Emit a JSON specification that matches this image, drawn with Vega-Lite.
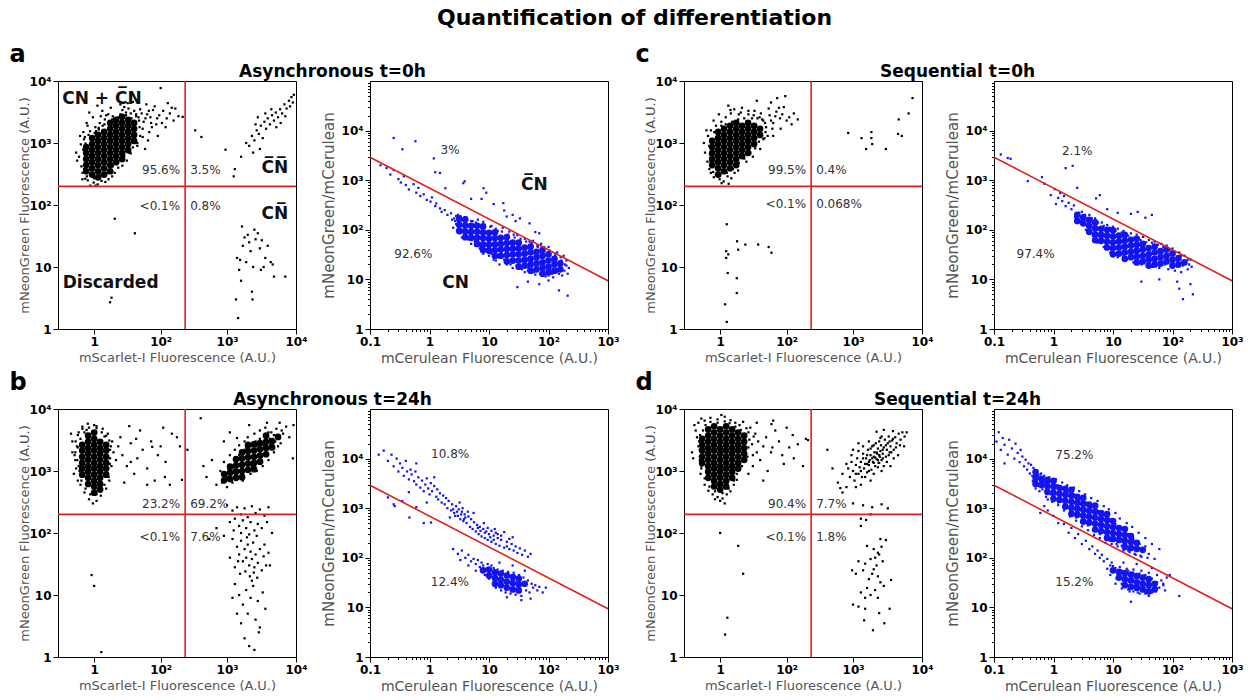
{
"$schema":"https://vega.github.io/schema/vega-lite/v6.json",
"title":{"text":"Quantification of differentiation","fontSize":22,"fontWeight":"bold","anchor":"middle","offset":13,"dx":8},
"padding":{"left":9,"top":6,"right":0,"bottom":0},
"spacing":4,
"vconcat":[
{"hconcat":[
{"title":{"text":"a","anchor":"start","frame":"bounds","fontSize":24,"fontWeight":"bold","offset":-4,"dx":-8},
 "vconcat":[{"title":{"text":"Asynchronous t=0h","fontSize":17,"fontWeight":"bold","anchor":"middle","offset":-6,"dx":14},
 "hconcat":[
 {"width":238,"height":248,
  "encoding":{"x":{"field":"x","type":"quantitative","scale":{"type":"symlog","constant":11.2,"domain":[-23,10000],"nice":false,"zero":false},"axis":{"values":[1,100,1000,10000],"labelExpr":"datum.value==1?'1':datum.value==100?'10²':datum.value==1000?'10³':'10⁴'","title":"mScarlet-I Fluorescence (A.U.)"}},
   "y":{"field":"y","type":"quantitative","scale":{"type":"log","domain":[1,10000],"nice":false},"axis":{"values":[1,10,100,1000,10000],"labelExpr":"datum.value==1?'1':datum.value==10?'10':datum.value==100?'10²':datum.value==1000?'10³':'10⁴'","title":"mNeonGreen Fluorescence (A.U.)","titlePadding":-2}}},
  "layer":[
   {"data":{"name":"a1c"},"mark":{"type":"circle","size":45,"color":"#000","opacity":1,"clip":true}},
   {"data":{"name":"a1"},"mark":{"type":"square","size":5,"color":"#000","opacity":1,"clip":true}},
   {"data":{"name":"gl"},"mark":{"type":"line","color":"#e0201c","strokeWidth":1.6},"encoding":{"detail":{"field":"g"}}},
   {"data":{"name":"a1p"},"transform":[{"filter":"datum.s=='L'"}],"mark":{"type":"text","align":"right","dx":-5,"fontSize":12,"color":"#333"},"encoding":{"text":{"field":"t"}}},
   {"data":{"name":"a1p"},"transform":[{"filter":"datum.s=='R'"}],"mark":{"type":"text","align":"left","dx":5,"fontSize":12,"color":"#333"},"encoding":{"text":{"field":"t"}}},
   {"data":{"name":"a1t"},"mark":{"type":"text","fontSize":17,"fontWeight":"bold","color":"#111"},"encoding":{"text":{"field":"t"}}}
  ]},
 {"width":238,"height":248,
  "encoding":{"x":{"field":"x","type":"quantitative","scale":{"type":"log","domain":[0.1,1000],"nice":false},"axis":{"values":[0.1,0.2,0.3,0.4,0.5,0.6,0.7,0.8,0.9,1,2,3,4,5,6,7,8,9,10,20,30,40,50,60,70,80,90,100,200,300,400,500,600,700,800,900,1000],"labelExpr":"datum.value==0.1?'0.1':datum.value==1?'1':datum.value==10?'10':datum.value==100?'10²':datum.value==1000?'10³':''","tickSize":{"condition":{"test":"indexof([0.1,1,10,100,1000],datum.value)>=0","value":5},"value":2.5},"title":"mCerulean Fluorescence (A.U.)","titleFontSize":14}},
   "y":{"field":"y","type":"quantitative","scale":{"type":"log","domain":[1,100000],"nice":false},"axis":{"values":[1,2,3,4,5,6,7,8,9,10,20,30,40,50,60,70,80,90,100,200,300,400,500,600,700,800,900,1000,2000,3000,4000,5000,6000,7000,8000,9000,10000,20000,30000,40000,50000,60000,70000,80000,90000],"labelExpr":"datum.value==1?'1':datum.value==10?'10':datum.value==100?'10²':datum.value==1000?'10³':datum.value==10000?'10⁴':''","tickSize":{"condition":{"test":"indexof([1,10,100,1000,10000],datum.value)>=0","value":5},"value":2.5},"title":"mNeonGreen/mCerulean","titleFontSize":15,"titlePadding":5}}},
  "layer":[
   {"data":{"name":"a2c"},"mark":{"type":"circle","size":45,"color":"#1414f0","opacity":1,"clip":true}},
   {"data":{"name":"a2"},"mark":{"type":"square","size":5,"color":"#1414f0","opacity":1,"clip":true}},
   {"data":{"name":"dl"},"mark":{"type":"line","color":"#e0201c","strokeWidth":1.6}},
   {"data":{"name":"a2p"},"mark":{"type":"text","fontSize":12,"color":"#333"},"encoding":{"text":{"field":"t"}}},
   {"data":{"name":"a2t"},"mark":{"type":"text","fontSize":17,"fontWeight":"bold","color":"#111"},"encoding":{"text":{"field":"t"}}}
  ]}
 ],"spacing":12}]},
{"title":{"text":"c","anchor":"start","frame":"bounds","fontSize":24,"fontWeight":"bold","offset":-4,"dx":-8},
 "vconcat":[{"title":{"text":"Sequential t=0h","fontSize":17,"fontWeight":"bold","anchor":"middle","offset":-6,"dx":14},
 "hconcat":[
 {"width":238,"height":248,
  "encoding":{"x":{"field":"x","type":"quantitative","scale":{"type":"symlog","constant":11.2,"domain":[-23,10000],"nice":false,"zero":false},"axis":{"values":[1,100,1000,10000],"labelExpr":"datum.value==1?'1':datum.value==100?'10²':datum.value==1000?'10³':'10⁴'","title":"mScarlet-I Fluorescence (A.U.)"}},
   "y":{"field":"y","type":"quantitative","scale":{"type":"log","domain":[1,10000],"nice":false},"axis":{"values":[1,10,100,1000,10000],"labelExpr":"datum.value==1?'1':datum.value==10?'10':datum.value==100?'10²':datum.value==1000?'10³':'10⁴'","title":"mNeonGreen Fluorescence (A.U.)","titlePadding":-2}}},
  "layer":[
   {"data":{"name":"c1c"},"mark":{"type":"circle","size":45,"color":"#000","opacity":1,"clip":true}},
   {"data":{"name":"c1"},"mark":{"type":"square","size":5,"color":"#000","opacity":1,"clip":true}},
   {"data":{"name":"gl"},"mark":{"type":"line","color":"#e0201c","strokeWidth":1.6},"encoding":{"detail":{"field":"g"}}},
   {"data":{"name":"c1p"},"transform":[{"filter":"datum.s=='L'"}],"mark":{"type":"text","align":"right","dx":-5,"fontSize":12,"color":"#333"},"encoding":{"text":{"field":"t"}}},
   {"data":{"name":"c1p"},"transform":[{"filter":"datum.s=='R'"}],"mark":{"type":"text","align":"left","dx":5,"fontSize":12,"color":"#333"},"encoding":{"text":{"field":"t"}}}
  ]},
 {"width":238,"height":248,
  "encoding":{"x":{"field":"x","type":"quantitative","scale":{"type":"log","domain":[0.1,1000],"nice":false},"axis":{"values":[0.1,0.2,0.3,0.4,0.5,0.6,0.7,0.8,0.9,1,2,3,4,5,6,7,8,9,10,20,30,40,50,60,70,80,90,100,200,300,400,500,600,700,800,900,1000],"labelExpr":"datum.value==0.1?'0.1':datum.value==1?'1':datum.value==10?'10':datum.value==100?'10²':datum.value==1000?'10³':''","tickSize":{"condition":{"test":"indexof([0.1,1,10,100,1000],datum.value)>=0","value":5},"value":2.5},"title":"mCerulean Fluorescence (A.U.)","titleFontSize":14}},
   "y":{"field":"y","type":"quantitative","scale":{"type":"log","domain":[1,100000],"nice":false},"axis":{"values":[1,2,3,4,5,6,7,8,9,10,20,30,40,50,60,70,80,90,100,200,300,400,500,600,700,800,900,1000,2000,3000,4000,5000,6000,7000,8000,9000,10000,20000,30000,40000,50000,60000,70000,80000,90000],"labelExpr":"datum.value==1?'1':datum.value==10?'10':datum.value==100?'10²':datum.value==1000?'10³':datum.value==10000?'10⁴':''","tickSize":{"condition":{"test":"indexof([1,10,100,1000,10000],datum.value)>=0","value":5},"value":2.5},"title":"mNeonGreen/mCerulean","titleFontSize":15,"titlePadding":5}}},
  "layer":[
   {"data":{"name":"c2c"},"mark":{"type":"circle","size":45,"color":"#1414f0","opacity":1,"clip":true}},
   {"data":{"name":"c2"},"mark":{"type":"square","size":5,"color":"#1414f0","opacity":1,"clip":true}},
   {"data":{"name":"dl"},"mark":{"type":"line","color":"#e0201c","strokeWidth":1.6}},
   {"data":{"name":"c2p"},"mark":{"type":"text","fontSize":12,"color":"#333"},"encoding":{"text":{"field":"t"}}}
  ]}
 ],"spacing":10}]}
],"spacing":15},
{"hconcat":[
{"title":{"text":"b","anchor":"start","frame":"bounds","fontSize":24,"fontWeight":"bold","offset":-4,"dx":-8},
 "vconcat":[{"title":{"text":"Asynchronous t=24h","fontSize":17,"fontWeight":"bold","anchor":"middle","offset":-6,"dx":14},
 "hconcat":[
 {"width":238,"height":248,
  "encoding":{"x":{"field":"x","type":"quantitative","scale":{"type":"symlog","constant":11.2,"domain":[-23,10000],"nice":false,"zero":false},"axis":{"values":[1,100,1000,10000],"labelExpr":"datum.value==1?'1':datum.value==100?'10²':datum.value==1000?'10³':'10⁴'","title":"mScarlet-I Fluorescence (A.U.)"}},
   "y":{"field":"y","type":"quantitative","scale":{"type":"log","domain":[1,10000],"nice":false},"axis":{"values":[1,10,100,1000,10000],"labelExpr":"datum.value==1?'1':datum.value==10?'10':datum.value==100?'10²':datum.value==1000?'10³':'10⁴'","title":"mNeonGreen Fluorescence (A.U.)","titlePadding":-2}}},
  "layer":[
   {"data":{"name":"b1c"},"mark":{"type":"circle","size":45,"color":"#000","opacity":1,"clip":true}},
   {"data":{"name":"b1"},"mark":{"type":"square","size":5,"color":"#000","opacity":1,"clip":true}},
   {"data":{"name":"gl"},"mark":{"type":"line","color":"#e0201c","strokeWidth":1.6},"encoding":{"detail":{"field":"g"}}},
   {"data":{"name":"b1p"},"transform":[{"filter":"datum.s=='L'"}],"mark":{"type":"text","align":"right","dx":-5,"fontSize":12,"color":"#333"},"encoding":{"text":{"field":"t"}}},
   {"data":{"name":"b1p"},"transform":[{"filter":"datum.s=='R'"}],"mark":{"type":"text","align":"left","dx":5,"fontSize":12,"color":"#333"},"encoding":{"text":{"field":"t"}}}
  ]},
 {"width":238,"height":248,
  "encoding":{"x":{"field":"x","type":"quantitative","scale":{"type":"log","domain":[0.1,1000],"nice":false},"axis":{"values":[0.1,0.2,0.3,0.4,0.5,0.6,0.7,0.8,0.9,1,2,3,4,5,6,7,8,9,10,20,30,40,50,60,70,80,90,100,200,300,400,500,600,700,800,900,1000],"labelExpr":"datum.value==0.1?'0.1':datum.value==1?'1':datum.value==10?'10':datum.value==100?'10²':datum.value==1000?'10³':''","tickSize":{"condition":{"test":"indexof([0.1,1,10,100,1000],datum.value)>=0","value":5},"value":2.5},"title":"mCerulean Fluorescence (A.U.)","titleFontSize":14}},
   "y":{"field":"y","type":"quantitative","scale":{"type":"log","domain":[1,100000],"nice":false},"axis":{"values":[1,2,3,4,5,6,7,8,9,10,20,30,40,50,60,70,80,90,100,200,300,400,500,600,700,800,900,1000,2000,3000,4000,5000,6000,7000,8000,9000,10000,20000,30000,40000,50000,60000,70000,80000,90000],"labelExpr":"datum.value==1?'1':datum.value==10?'10':datum.value==100?'10²':datum.value==1000?'10³':datum.value==10000?'10⁴':''","tickSize":{"condition":{"test":"indexof([1,10,100,1000,10000],datum.value)>=0","value":5},"value":2.5},"title":"mNeonGreen/mCerulean","titleFontSize":15,"titlePadding":5}}},
  "layer":[
   {"data":{"name":"b2c"},"mark":{"type":"circle","size":45,"color":"#1414f0","opacity":1,"clip":true}},
   {"data":{"name":"b2"},"mark":{"type":"square","size":5,"color":"#1414f0","opacity":1,"clip":true}},
   {"data":{"name":"dl"},"mark":{"type":"line","color":"#e0201c","strokeWidth":1.6}},
   {"data":{"name":"b2p"},"mark":{"type":"text","fontSize":12,"color":"#333"},"encoding":{"text":{"field":"t"}}}
  ]}
 ],"spacing":12}]},
{"title":{"text":"d","anchor":"start","frame":"bounds","fontSize":24,"fontWeight":"bold","offset":-4,"dx":-8},
 "vconcat":[{"title":{"text":"Sequential t=24h","fontSize":17,"fontWeight":"bold","anchor":"middle","offset":-6,"dx":14},
 "hconcat":[
 {"width":238,"height":248,
  "encoding":{"x":{"field":"x","type":"quantitative","scale":{"type":"symlog","constant":11.2,"domain":[-23,10000],"nice":false,"zero":false},"axis":{"values":[1,100,1000,10000],"labelExpr":"datum.value==1?'1':datum.value==100?'10²':datum.value==1000?'10³':'10⁴'","title":"mScarlet-I Fluorescence (A.U.)"}},
   "y":{"field":"y","type":"quantitative","scale":{"type":"log","domain":[1,10000],"nice":false},"axis":{"values":[1,10,100,1000,10000],"labelExpr":"datum.value==1?'1':datum.value==10?'10':datum.value==100?'10²':datum.value==1000?'10³':'10⁴'","title":"mNeonGreen Fluorescence (A.U.)","titlePadding":-2}}},
  "layer":[
   {"data":{"name":"d1c"},"mark":{"type":"circle","size":45,"color":"#000","opacity":1,"clip":true}},
   {"data":{"name":"d1"},"mark":{"type":"square","size":5,"color":"#000","opacity":1,"clip":true}},
   {"data":{"name":"gl"},"mark":{"type":"line","color":"#e0201c","strokeWidth":1.6},"encoding":{"detail":{"field":"g"}}},
   {"data":{"name":"d1p"},"transform":[{"filter":"datum.s=='L'"}],"mark":{"type":"text","align":"right","dx":-5,"fontSize":12,"color":"#333"},"encoding":{"text":{"field":"t"}}},
   {"data":{"name":"d1p"},"transform":[{"filter":"datum.s=='R'"}],"mark":{"type":"text","align":"left","dx":5,"fontSize":12,"color":"#333"},"encoding":{"text":{"field":"t"}}}
  ]},
 {"width":238,"height":248,
  "encoding":{"x":{"field":"x","type":"quantitative","scale":{"type":"log","domain":[0.1,1000],"nice":false},"axis":{"values":[0.1,0.2,0.3,0.4,0.5,0.6,0.7,0.8,0.9,1,2,3,4,5,6,7,8,9,10,20,30,40,50,60,70,80,90,100,200,300,400,500,600,700,800,900,1000],"labelExpr":"datum.value==0.1?'0.1':datum.value==1?'1':datum.value==10?'10':datum.value==100?'10²':datum.value==1000?'10³':''","tickSize":{"condition":{"test":"indexof([0.1,1,10,100,1000],datum.value)>=0","value":5},"value":2.5},"title":"mCerulean Fluorescence (A.U.)","titleFontSize":14}},
   "y":{"field":"y","type":"quantitative","scale":{"type":"log","domain":[1,100000],"nice":false},"axis":{"values":[1,2,3,4,5,6,7,8,9,10,20,30,40,50,60,70,80,90,100,200,300,400,500,600,700,800,900,1000,2000,3000,4000,5000,6000,7000,8000,9000,10000,20000,30000,40000,50000,60000,70000,80000,90000],"labelExpr":"datum.value==1?'1':datum.value==10?'10':datum.value==100?'10²':datum.value==1000?'10³':datum.value==10000?'10⁴':''","tickSize":{"condition":{"test":"indexof([1,10,100,1000,10000],datum.value)>=0","value":5},"value":2.5},"title":"mNeonGreen/mCerulean","titleFontSize":15,"titlePadding":5}}},
  "layer":[
   {"data":{"name":"d2c"},"mark":{"type":"circle","size":45,"color":"#1414f0","opacity":1,"clip":true}},
   {"data":{"name":"d2"},"mark":{"type":"square","size":5,"color":"#1414f0","opacity":1,"clip":true}},
   {"data":{"name":"dl"},"mark":{"type":"line","color":"#e0201c","strokeWidth":1.6}},
   {"data":{"name":"d2p"},"mark":{"type":"text","fontSize":12,"color":"#333"},"encoding":{"text":{"field":"t"}}}
  ]}
 ],"spacing":10}]}
],"spacing":15}
],
"datasets":{
"gl":[{"g":1,"x":240,"y":1},{"g":1,"x":240,"y":10000},{"g":2,"x":-23,"y":200},{"g":2,"x":10000,"y":200}],
"dl":[{"x":0.1,"y":2900},{"x":1000,"y":9.4}],
"a1p":[{"x":240,"y":367,"t":"95.6%","s":"L"},{"x":240,"y":367,"t":"3.5%","s":"R"},{"x":240,"y":96,"t":"<0.1%","s":"L"},{"x":240,"y":96,"t":"0.8%","s":"R"}],
"a1t":[{"x":4.6,"y":5220,"t":"CN + C\u0305N"},{"x":9.9,"y":5.6,"t":"Discarded"},{"x":4950,"y":390,"t":"C\u0305N\u0305"},{"x":4950,"y":72,"t":"CN\u0305"}],
"a2p":[{"x":2.22,"y":4000,"t":"3%"},{"x":0.535,"y":33,"t":"92.6%"}],
"a2t":[{"x":57.8,"y":785,"t":"C\u0305N"},{"x":2.76,"y":8.5,"t":"CN"}],
"b1p":[{"x":240,"y":294,"t":"23.2%","s":"L"},{"x":240,"y":294,"t":"69.2%","s":"R"},{"x":240,"y":85,"t":"<0.1%","s":"L"},{"x":240,"y":85,"t":"7.6%","s":"R"}],
"b2p":[{"x":2.22,"y":12400,"t":"10.8%"},{"x":2.2,"y":32,"t":"12.4%"}],
"c1p":[{"x":240,"y":366,"t":"99.5%","s":"L"},{"x":240,"y":366,"t":"0.4%","s":"R"},{"x":240,"y":102,"t":"<0.1%","s":"L"},{"x":240,"y":102,"t":"0.068%","s":"R"}],
"c2p":[{"x":2.5,"y":3900,"t":"2.1%"},{"x":0.5,"y":33,"t":"97.4%"}],
"d1p":[{"x":240,"y":299,"t":"90.4%","s":"L"},{"x":240,"y":299,"t":"7.7%","s":"R"},{"x":240,"y":85,"t":"<0.1%","s":"L"},{"x":240,"y":85,"t":"1.8%","s":"R"}],
"d2p":[{"x":2.24,"y":11800,"t":"75.2%"},{"x":2.24,"y":32,"t":"15.2%"}],
"a1c":[{"x":-2.2,"y":350},{"x":-2.2,"y":440},{"x":-2.2,"y":550},{"x":-2.2,"y":690},{"x":-2.2,"y":860},{"x":0.2,"y":310},{"x":0.2,"y":390},{"x":0.2,"y":490},{"x":0.2,"y":615},{"x":0.2,"y":770},{"x":0.2,"y":960},{"x":0.2,"y":1200},{"x":2.7,"y":280},{"x":2.7,"y":350},{"x":2.7,"y":440},{"x":2.7,"y":550},{"x":2.7,"y":690},{"x":2.7,"y":860},{"x":2.7,"y":1080},{"x":2.7,"y":1350},{"x":5.8,"y":310},{"x":5.8,"y":390},{"x":5.8,"y":490},{"x":5.8,"y":615},{"x":5.8,"y":770},{"x":5.8,"y":960},{"x":5.8,"y":1200},{"x":5.8,"y":1510},{"x":9.6,"y":350},{"x":9.6,"y":440},{"x":9.6,"y":550},{"x":9.6,"y":690},{"x":9.6,"y":860},{"x":9.6,"y":1080},{"x":9.6,"y":1350},{"x":9.6,"y":1690},{"x":9.6,"y":2110},{"x":14.1,"y":490},{"x":14.1,"y":615},{"x":14.1,"y":770},{"x":14.1,"y":960},{"x":14.1,"y":1200},{"x":14.1,"y":1510},{"x":14.1,"y":1890},{"x":14.1,"y":2360},{"x":19.7,"y":550},{"x":19.7,"y":690},{"x":19.7,"y":860},{"x":19.7,"y":1080},{"x":19.7,"y":1350},{"x":19.7,"y":1690},{"x":19.7,"y":2110},{"x":19.7,"y":2640},{"x":26.6,"y":770},{"x":26.6,"y":960},{"x":26.6,"y":1200},{"x":26.6,"y":1510},{"x":26.6,"y":1890},{"x":26.6,"y":2360},{"x":34.8,"y":1080},{"x":34.8,"y":1350},{"x":34.8,"y":1690},{"x":34.8,"y":2110}],
"a1":[{"x":-4.5,"y":420},{"x":-5.8,"y":600},{"x":-3.6,"y":780},{"x":-6.9,"y":520},{"x":-3.9,"y":330},{"x":-4.8,"y":950},{"x":-7.5,"y":700},{"x":-3.2,"y":1150},{"x":-5.2,"y":1300},{"x":-4,"y":260},{"x":-1.5,"y":250},{"x":0.8,"y":230},{"x":2.5,"y":215},{"x":4.4,"y":245},{"x":6.5,"y":235},{"x":8.5,"y":260},{"x":-2.6,"y":265},{"x":1.6,"y":205},{"x":11,"y":290},{"x":13,"y":330},{"x":16,"y":400},{"x":-0.5,"y":205},{"x":-2.8,"y":1250},{"x":-0.6,"y":1550},{"x":1.5,"y":1800},{"x":3.5,"y":2100},{"x":6.2,"y":2400},{"x":8.3,"y":2900},{"x":0.5,"y":2600},{"x":-1.6,"y":1900},{"x":4.8,"y":3300},{"x":11.5,"y":2700},{"x":2.4,"y":4000},{"x":-0.9,"y":3100},{"x":-3.5,"y":1500},{"x":1.2,"y":1450},{"x":3,"y":1650},{"x":5,"y":1900},{"x":7,"y":2800},{"x":18,"y":2900},{"x":24,"y":3100},{"x":31,"y":2500},{"x":38,"y":2900},{"x":44,"y":1800},{"x":52,"y":2200},{"x":60,"y":2900},{"x":68,"y":2600},{"x":75,"y":3400},{"x":85,"y":2000},{"x":95,"y":2800},{"x":110,"y":3300},{"x":125,"y":2500},{"x":140,"y":3000},{"x":160,"y":2300},{"x":100,"y":7700},{"x":58,"y":4200},{"x":80,"y":3900},{"x":45,"y":3500},{"x":130,"y":4400},{"x":33,"y":4600},{"x":22,"y":3800},{"x":65,"y":1500},{"x":50,"y":1250},{"x":40,"y":900},{"x":30,"y":680},{"x":25,"y":520},{"x":20,"y":430},{"x":55,"y":800},{"x":90,"y":1300},{"x":120,"y":1800},{"x":170,"y":3600},{"x":220,"y":2640},{"x":42,"y":2600},{"x":70,"y":2100},{"x":36,"y":1400},{"x":28,"y":1900},{"x":-3.2,"y":380},{"x":-2.9,"y":560},{"x":-3.1,"y":700},{"x":-2.5,"y":980},{"x":-1.2,"y":1350},{"x":1.8,"y":1550},{"x":-1.9,"y":290},{"x":0.9,"y":270},{"x":4,"y":300},{"x":7.5,"y":330},{"x":11.5,"y":420},{"x":16,"y":520},{"x":22,"y":620},{"x":28,"y":700},{"x":33,"y":850},{"x":40,"y":1000},{"x":45,"y":1300},{"x":43,"y":2300},{"x":38,"y":2700},{"x":30,"y":3000},{"x":24,"y":2800},{"x":16,"y":2600},{"x":11,"y":2400},{"x":6,"y":2000},{"x":3,"y":1750},{"x":12,"y":2200},{"x":20,"y":3400},{"x":27,"y":3600},{"x":35,"y":3300},{"x":50,"y":1700},{"x":56,"y":2500},{"x":64,"y":3300},{"x":72,"y":1800},{"x":88,"y":2500},{"x":105,"y":2100},{"x":62,"y":1100},{"x":48,"y":3000},{"x":18,"y":4200},{"x":10,"y":3700},{"x":4,"y":2700},{"x":-2,"y":2100},{"x":26,"y":4400},{"x":40,"y":4900},{"x":150,"y":3700},{"x":190,"y":2700},{"x":2100,"y":900},{"x":2300,"y":1300},{"x":2500,"y":1100},{"x":2700,"y":1600},{"x":2900,"y":1400},{"x":3100,"y":1900},{"x":3300,"y":1200},{"x":3500,"y":2200},{"x":3700,"y":1700},{"x":3900,"y":2500},{"x":4200,"y":2000},{"x":4500,"y":2800},{"x":4800,"y":2300},{"x":5100,"y":3100},{"x":5500,"y":2600},{"x":5900,"y":3500},{"x":6300,"y":3000},{"x":6800,"y":4200},{"x":7300,"y":3600},{"x":7900,"y":4800},{"x":8600,"y":5500},{"x":9300,"y":6000},{"x":2400,"y":700},{"x":1900,"y":1000},{"x":3600,"y":3000},{"x":4400,"y":3500},{"x":5200,"y":1800},{"x":6000,"y":2100},{"x":3000,"y":800},{"x":8200,"y":3900},{"x":7000,"y":2700},{"x":9000,"y":4500},{"x":2600,"y":2000},{"x":1600,"y":600},{"x":1300,"y":380},{"x":1250,"y":290},{"x":950,"y":780},{"x":420,"y":1250},{"x":340,"y":1600},{"x":2800,"y":2600},{"x":1400,"y":14},{"x":1500,"y":9},{"x":1600,"y":6},{"x":1700,"y":22},{"x":1800,"y":30},{"x":1900,"y":12},{"x":2000,"y":33},{"x":2100,"y":25},{"x":2200,"y":18},{"x":2300,"y":4},{"x":2400,"y":10},{"x":2600,"y":28},{"x":2800,"y":35},{"x":3000,"y":20},{"x":3200,"y":27},{"x":3400,"y":10},{"x":3600,"y":14},{"x":3900,"y":22},{"x":4300,"y":12},{"x":4800,"y":7},{"x":1450,"y":1.5},{"x":1350,"y":3},{"x":2500,"y":40},{"x":3100,"y":9},{"x":7000,"y":7},{"x":2350,"y":3},{"x":1650,"y":45},{"x":4600,"y":11},{"x":1550,"y":13},{"x":13,"y":60},{"x":36,"y":35},{"x":9.5,"y":2.7},{"x":10.5,"y":3.2}],
"a2c":[{"x":3.16,"y":126},{"x":3.16,"y":95},{"x":3.16,"y":166},{"x":3.98,"y":123},{"x":3.98,"y":93},{"x":3.98,"y":162},{"x":3.98,"y":71},{"x":5.01,"y":91},{"x":5.01,"y":69},{"x":5.01,"y":120},{"x":6.31,"y":91},{"x":6.31,"y":69},{"x":6.31,"y":120},{"x":6.31,"y":52},{"x":7.94,"y":68},{"x":7.94,"y":51},{"x":7.94,"y":89},{"x":7.94,"y":39},{"x":7.94,"y":117},{"x":10,"y":66},{"x":10,"y":50},{"x":10,"y":87},{"x":10,"y":38},{"x":12.6,"y":51},{"x":12.6,"y":39},{"x":12.6,"y":68},{"x":12.6,"y":30},{"x":12.6,"y":89},{"x":15.8,"y":52},{"x":15.8,"y":40},{"x":15.8,"y":69},{"x":15.8,"y":30},{"x":20,"y":41},{"x":20,"y":31},{"x":20,"y":54},{"x":20,"y":23},{"x":20,"y":71},{"x":25.1,"y":42},{"x":25.1,"y":32},{"x":25.1,"y":55},{"x":25.1,"y":24},{"x":31.6,"y":32},{"x":31.6,"y":24},{"x":31.6,"y":42},{"x":31.6,"y":18},{"x":31.6,"y":55},{"x":39.8,"y":33},{"x":39.8,"y":25},{"x":39.8,"y":44},{"x":39.8,"y":19},{"x":50.1,"y":26},{"x":50.1,"y":20},{"x":50.1,"y":35},{"x":50.1,"y":15},{"x":50.1,"y":46},{"x":63.1,"y":28},{"x":63.1,"y":21},{"x":63.1,"y":36},{"x":63.1,"y":16},{"x":79.4,"y":22},{"x":79.4,"y":17},{"x":79.4,"y":30},{"x":79.4,"y":13},{"x":79.4,"y":39},{"x":100,"y":24},{"x":100,"y":18},{"x":100,"y":32},{"x":100,"y":14},{"x":126,"y":20},{"x":126,"y":15},{"x":126,"y":26},{"x":158,"y":21},{"x":158,"y":16}],
"a2":[{"x":0.15,"y":2000},{"x":0.19,"y":1750},{"x":0.22,"y":1300},{"x":0.25,"y":1600},{"x":0.3,"y":1050},{"x":0.37,"y":1200},{"x":0.4,"y":800},{"x":0.45,"y":650},{"x":0.54,"y":830},{"x":0.6,"y":560},{"x":0.7,"y":480},{"x":0.8,"y":520},{"x":0.9,"y":400},{"x":1.04,"y":370},{"x":1.1,"y":450},{"x":1.25,"y":300},{"x":1.5,"y":270},{"x":1.6,"y":230},{"x":1.8,"y":250},{"x":2,"y":200},{"x":2.3,"y":215},{"x":2.6,"y":170},{"x":2.8,"y":190},{"x":0.33,"y":900},{"x":0.65,"y":700},{"x":1.3,"y":340},{"x":3,"y":200},{"x":4,"y":180},{"x":5,"y":150},{"x":6,"y":140},{"x":8,"y":145},{"x":3.5,"y":70},{"x":5,"y":52},{"x":7,"y":42},{"x":10,"y":30},{"x":13,"y":24},{"x":17,"y":110},{"x":22,"y":92},{"x":30,"y":78},{"x":40,"y":66},{"x":55,"y":60},{"x":75,"y":52},{"x":100,"y":45},{"x":140,"y":35},{"x":180,"y":30},{"x":200,"y":24},{"x":220,"y":17},{"x":170,"y":12},{"x":120,"y":11},{"x":90,"y":11.5},{"x":60,"y":12.5},{"x":40,"y":14},{"x":25,"y":17},{"x":15,"y":20},{"x":2.5,"y":110},{"x":2.7,"y":150},{"x":11,"y":120},{"x":14,"y":95},{"x":26,"y":80},{"x":48,"y":58},{"x":65,"y":48},{"x":85,"y":44},{"x":130,"y":33},{"x":160,"y":28},{"x":190,"y":20},{"x":210,"y":13},{"x":150,"y":13},{"x":100,"y":12},{"x":45,"y":15},{"x":33,"y":18},{"x":20,"y":20},{"x":12,"y":25},{"x":8,"y":33},{"x":6,"y":48},{"x":4.5,"y":64},{"x":3.3,"y":85},{"x":3.3,"y":190},{"x":4.2,"y":175},{"x":5.3,"y":150},{"x":6.5,"y":160},{"x":8.5,"y":125},{"x":10.5,"y":115},{"x":13,"y":105},{"x":16.5,"y":92},{"x":21,"y":80},{"x":27,"y":70},{"x":34,"y":66},{"x":42,"y":58},{"x":52,"y":54},{"x":66,"y":45},{"x":82,"y":45},{"x":105,"y":38},{"x":130,"y":30},{"x":165,"y":24},{"x":3.6,"y":100},{"x":4.6,"y":85},{"x":5.8,"y":60},{"x":7.2,"y":45},{"x":9,"y":40},{"x":11,"y":33},{"x":14,"y":28},{"x":18,"y":25},{"x":23,"y":20},{"x":29,"y":19},{"x":36,"y":16},{"x":46,"y":17},{"x":57,"y":14},{"x":72,"y":13},{"x":92,"y":13},{"x":115,"y":13},{"x":140,"y":14},{"x":185,"y":15},{"x":200,"y":19},{"x":2.8,"y":130},{"x":2.4,"y":160},{"x":0.25,"y":7100},{"x":0.35,"y":4200},{"x":0.58,"y":6100},{"x":1.18,"y":2750},{"x":1.25,"y":1450},{"x":1.5,"y":1400},{"x":1.85,"y":690},{"x":3.7,"y":870},{"x":3.9,"y":950},{"x":8.1,"y":690},{"x":9,"y":560},{"x":17.4,"y":345},{"x":18,"y":245},{"x":19.8,"y":185},{"x":33,"y":170},{"x":48,"y":135},{"x":5,"y":420},{"x":7.5,"y":420},{"x":12,"y":330},{"x":25,"y":200},{"x":28,"y":150},{"x":60,"y":90},{"x":70,"y":85},{"x":30,"y":7},{"x":70,"y":8},{"x":150,"y":6},{"x":210,"y":4.7},{"x":45,"y":9},{"x":100,"y":9.5}],
"b1c":[{"x":-4.1,"y":871},{"x":-4.1,"y":1096},{"x":-4.1,"y":1349},{"x":-4.1,"y":1698},{"x":-4.1,"y":2138},{"x":-4.1,"y":2630},{"x":-1.36,"y":617},{"x":-1.36,"y":776},{"x":-1.36,"y":977},{"x":-1.36,"y":1202},{"x":-1.36,"y":1514},{"x":-1.36,"y":1905},{"x":-1.36,"y":2344},{"x":-1.36,"y":2951},{"x":-1.36,"y":3715},{"x":1,"y":447},{"x":1,"y":562},{"x":1,"y":692},{"x":1,"y":871},{"x":1,"y":1096},{"x":1,"y":1349},{"x":1,"y":1698},{"x":1,"y":2138},{"x":1,"y":2630},{"x":1,"y":3311},{"x":1,"y":4169},{"x":3.69,"y":501},{"x":3.69,"y":617},{"x":3.69,"y":776},{"x":3.69,"y":977},{"x":3.69,"y":1202},{"x":3.69,"y":1514},{"x":3.69,"y":1905},{"x":3.69,"y":2344},{"x":3.69,"y":2951},{"x":6.98,"y":871},{"x":6.98,"y":1096},{"x":6.98,"y":1349},{"x":6.98,"y":1698},{"x":6.98,"y":2138},{"x":6.98,"y":2630},{"x":905,"y":891},{"x":905,"y":708},{"x":1107,"y":933},{"x":1107,"y":1175},{"x":1107,"y":741},{"x":1354,"y":1230},{"x":1354,"y":977},{"x":1354,"y":1549},{"x":1354,"y":776},{"x":1655,"y":1259},{"x":1655,"y":1585},{"x":1655,"y":1000},{"x":1655,"y":1995},{"x":1655,"y":794},{"x":2023,"y":1660},{"x":2023,"y":1318},{"x":2023,"y":2089},{"x":2023,"y":1047},{"x":2023,"y":2630},{"x":2473,"y":1698},{"x":2473,"y":2138},{"x":2473,"y":1349},{"x":2473,"y":2692},{"x":2473,"y":1072},{"x":3020,"y":2239},{"x":3020,"y":1778},{"x":3020,"y":2818},{"x":3020,"y":1413},{"x":3690,"y":2344},{"x":3690,"y":2951},{"x":3690,"y":1862},{"x":3690,"y":3715},{"x":4506,"y":3020},{"x":4506,"y":2399},{"x":5500,"y":3548}],
"b1":[{"x":-8,"y":1500},{"x":-7,"y":2500},{"x":-9,"y":900},{"x":-6.5,"y":3800},{"x":-5,"y":600},{"x":-3,"y":450},{"x":-1,"y":350},{"x":0.5,"y":300},{"x":2,"y":330},{"x":4,"y":400},{"x":7,"y":520},{"x":9,"y":700},{"x":10.5,"y":1200},{"x":12,"y":2000},{"x":11,"y":3000},{"x":8,"y":4000},{"x":5,"y":4800},{"x":1,"y":5500},{"x":-2,"y":4600},{"x":-4,"y":5200},{"x":-10,"y":3000},{"x":-10,"y":2000},{"x":-11,"y":4000},{"x":3,"y":650},{"x":-1.5,"y":5800},{"x":-6,"y":1200},{"x":-8.5,"y":1800},{"x":9.5,"y":1600},{"x":10,"y":2500},{"x":6,"y":3600},{"x":-3,"y":4200},{"x":2,"y":4900},{"x":-6.5,"y":700},{"x":-7.5,"y":1100},{"x":-8,"y":2000},{"x":-7.8,"y":3000},{"x":-6,"y":4200},{"x":-4,"y":4800},{"x":-1,"y":5000},{"x":2,"y":5300},{"x":4.5,"y":4200},{"x":7,"y":3700},{"x":9,"y":3100},{"x":9.5,"y":2200},{"x":9.3,"y":1300},{"x":8.5,"y":800},{"x":6,"y":600},{"x":4,"y":480},{"x":2,"y":420},{"x":-0.5,"y":420},{"x":-2.5,"y":520},{"x":-4.5,"y":700},{"x":-5.5,"y":1000},{"x":-6.8,"y":1500},{"x":-6.5,"y":2400},{"x":-5,"y":3300},{"x":14,"y":1500},{"x":16,"y":2500},{"x":20,"y":1800},{"x":25,"y":1200},{"x":30,"y":2800},{"x":35,"y":900},{"x":40,"y":1600},{"x":50,"y":2200},{"x":60,"y":1100},{"x":70,"y":3000},{"x":80,"y":700},{"x":90,"y":1800},{"x":100,"y":2500},{"x":120,"y":1400},{"x":140,"y":600},{"x":180,"y":3500},{"x":200,"y":2500},{"x":150,"y":4000},{"x":110,"y":5000},{"x":45,"y":4500},{"x":28,"y":5300},{"x":60,"y":600},{"x":22,"y":650},{"x":30,"y":1400},{"x":73,"y":2450},{"x":117,"y":800},{"x":215,"y":720},{"x":410,"y":7100},{"x":260,"y":2200},{"x":18,"y":3500},{"x":38,"y":3300},{"x":700,"y":600},{"x":800,"y":1000},{"x":900,"y":1400},{"x":1000,"y":550},{"x":1100,"y":1800},{"x":1200,"y":650},{"x":1300,"y":2200},{"x":1500,"y":2600},{"x":1700,"y":700},{"x":1800,"y":3000},{"x":2000,"y":3500},{"x":2200,"y":900},{"x":2500,"y":4000},{"x":2700,"y":1000},{"x":3000,"y":4500},{"x":3300,"y":1200},{"x":3600,"y":5000},{"x":4000,"y":1500},{"x":4400,"y":4200},{"x":4800,"y":2000},{"x":5200,"y":4800},{"x":6000,"y":2800},{"x":6500,"y":4000},{"x":7200,"y":5200},{"x":8000,"y":3500},{"x":9000,"y":1600},{"x":500,"y":800},{"x":450,"y":1200},{"x":600,"y":1500},{"x":900,"y":3000},{"x":1100,"y":4200},{"x":1400,"y":3400},{"x":2100,"y":5500},{"x":3800,"y":6000},{"x":5500,"y":2500},{"x":2400,"y":2900},{"x":1600,"y":1200},{"x":3400,"y":2600},{"x":4200,"y":3300},{"x":5800,"y":6000},{"x":9200,"y":5500},{"x":850,"y":650},{"x":1000,"y":800},{"x":1150,"y":700},{"x":1200,"y":1100},{"x":1400,"y":900},{"x":1500,"y":1800},{"x":1700,"y":900},{"x":1800,"y":2200},{"x":2000,"y":1000},{"x":2200,"y":2500},{"x":2300,"y":1200},{"x":2600,"y":3000},{"x":2800,"y":1400},{"x":3000,"y":3300},{"x":3200,"y":1700},{"x":3500,"y":3800},{"x":3700,"y":2100},{"x":4000,"y":4200},{"x":4200,"y":2600},{"x":4800,"y":3800},{"x":5000,"y":3000},{"x":5800,"y":3400},{"x":6200,"y":4500},{"x":1300,"y":1500},{"x":1600,"y":2000},{"x":1900,"y":2400},{"x":2700,"y":2500},{"x":3300,"y":2300},{"x":4600,"y":3300},{"x":1050,"y":1050},{"x":1000,"y":280},{"x":1200,"y":230},{"x":1400,"y":260},{"x":1600,"y":200},{"x":1800,"y":250},{"x":2000,"y":180},{"x":2300,"y":270},{"x":2600,"y":210},{"x":3000,"y":240},{"x":3500,"y":190},{"x":4000,"y":260},{"x":1100,"y":150},{"x":1300,"y":170},{"x":1500,"y":130},{"x":1700,"y":160},{"x":1900,"y":120},{"x":2200,"y":150},{"x":2500,"y":110},{"x":2800,"y":140},{"x":3200,"y":120},{"x":3800,"y":150},{"x":1250,"y":110},{"x":1600,"y":100},{"x":2100,"y":95},{"x":900,"y":90},{"x":4500,"y":100},{"x":700,"y":120},{"x":550,"y":80},{"x":1200,"y":80},{"x":1400,"y":60},{"x":1500,"y":45},{"x":1600,"y":75},{"x":1700,"y":35},{"x":1800,"y":55},{"x":1900,"y":40},{"x":2000,"y":65},{"x":2100,"y":30},{"x":2200,"y":50},{"x":2300,"y":38},{"x":2400,"y":70},{"x":2500,"y":28},{"x":2600,"y":45},{"x":2800,"y":33},{"x":3000,"y":55},{"x":3200,"y":25},{"x":3400,"y":42},{"x":3700,"y":30},{"x":4000,"y":48},{"x":1300,"y":28},{"x":1550,"y":22},{"x":1850,"y":24},{"x":2150,"y":20},{"x":2450,"y":23},{"x":2750,"y":19},{"x":1100,"y":40},{"x":3500,"y":65},{"x":4200,"y":30},{"x":1950,"y":85},{"x":2700,"y":90},{"x":1450,"y":35},{"x":1300,"y":15},{"x":1500,"y":10},{"x":1700,"y":7},{"x":1900,"y":12},{"x":2000,"y":5},{"x":2200,"y":9},{"x":2400,"y":14},{"x":2600,"y":4},{"x":2800,"y":8},{"x":3000,"y":3},{"x":3300,"y":11},{"x":1600,"y":3.5},{"x":1800,"y":2},{"x":2100,"y":1.5},{"x":2500,"y":1.3},{"x":1400,"y":5},{"x":3600,"y":6},{"x":1200,"y":9},{"x":2300,"y":17},{"x":2900,"y":2.5},{"x":0,"y":21},{"x":1,"y":14},{"x":4.3,"y":1.2}],
"b2c":[{"x":7.94,"y":56},{"x":10,"y":58},{"x":10,"y":44},{"x":12.6,"y":51},{"x":12.6,"y":39},{"x":12.6,"y":30},{"x":15.8,"y":48},{"x":15.8,"y":36},{"x":15.8,"y":28},{"x":20,"y":44},{"x":20,"y":33},{"x":20,"y":25},{"x":25.1,"y":41},{"x":25.1,"y":31},{"x":25.1,"y":23},{"x":31.6,"y":38},{"x":31.6,"y":29},{"x":31.6,"y":22},{"x":39.8,"y":30}],
"b2":[{"x":0.14,"y":12000},{"x":0.17,"y":14500},{"x":0.2,"y":9000},{"x":0.23,"y":12000},{"x":0.25,"y":7000},{"x":0.28,"y":10000},{"x":0.3,"y":5500},{"x":0.32,"y":8000},{"x":0.35,"y":6500},{"x":0.37,"y":4500},{"x":0.4,"y":9000},{"x":0.42,"y":5500},{"x":0.45,"y":3800},{"x":0.48,"y":6000},{"x":0.5,"y":4800},{"x":0.55,"y":3500},{"x":0.58,"y":5500},{"x":0.6,"y":3000},{"x":0.65,"y":4200},{"x":0.7,"y":2600},{"x":0.75,"y":3600},{"x":0.8,"y":2200},{"x":0.85,"y":3000},{"x":0.9,"y":4000},{"x":0.95,"y":2500},{"x":1,"y":1900},{"x":1.05,"y":3200},{"x":1.1,"y":2200},{"x":1.2,"y":2800},{"x":1.3,"y":1700},{"x":1.35,"y":2400},{"x":1.4,"y":1500},{"x":1.5,"y":2000},{"x":1.6,"y":1300},{"x":1.7,"y":1800},{"x":1.8,"y":1200},{"x":1.9,"y":1600},{"x":2,"y":1000},{"x":2.1,"y":1400},{"x":2.3,"y":900},{"x":2.4,"y":1200},{"x":2.6,"y":800},{"x":2.8,"y":1100},{"x":3,"y":700},{"x":3.1,"y":950},{"x":3.3,"y":600},{"x":3.5,"y":850},{"x":3.7,"y":550},{"x":3.9,"y":750},{"x":4.2,"y":500},{"x":4.5,"y":680},{"x":4.8,"y":420},{"x":5,"y":600},{"x":5.3,"y":380},{"x":5.6,"y":520},{"x":6,"y":340},{"x":6.3,"y":460},{"x":6.7,"y":300},{"x":7,"y":420},{"x":7.5,"y":270},{"x":8,"y":380},{"x":8.5,"y":250},{"x":9,"y":340},{"x":9.5,"y":230},{"x":10,"y":300},{"x":11,"y":210},{"x":12,"y":280},{"x":13,"y":190},{"x":14,"y":250},{"x":15,"y":175},{"x":16,"y":230},{"x":18,"y":160},{"x":20,"y":210},{"x":22,"y":150},{"x":24,"y":190},{"x":26,"y":140},{"x":28,"y":170},{"x":30,"y":125},{"x":33,"y":155},{"x":36,"y":115},{"x":40,"y":140},{"x":45,"y":105},{"x":50,"y":120},{"x":3.2,"y":1300},{"x":2.2,"y":650},{"x":5.5,"y":800},{"x":8.2,"y":500},{"x":12.5,"y":380},{"x":1.2,"y":4200},{"x":0.6,"y":8000},{"x":18,"y":330},{"x":25,"y":260},{"x":0.9,"y":1300},{"x":0.45,"y":2100},{"x":2.5,"y":950},{"x":2.7,"y":700},{"x":3.4,"y":750},{"x":3.6,"y":1000},{"x":4,"y":650},{"x":4.4,"y":850},{"x":2.9,"y":850},{"x":3.8,"y":600},{"x":8.5,"y":320},{"x":9.5,"y":400},{"x":10.5,"y":260},{"x":11,"y":350},{"x":12,"y":230},{"x":13,"y":320},{"x":14,"y":300},{"x":7.2,"y":350},{"x":6.5,"y":400},{"x":16,"y":280},{"x":20,"y":170},{"x":22,"y":240},{"x":0.2,"y":1650},{"x":0.26,"y":1100},{"x":0.35,"y":1400},{"x":0.46,"y":650},{"x":0.8,"y":500},{"x":1.06,"y":515},{"x":0.6,"y":1050},{"x":0.25,"y":1200},{"x":2.5,"y":150},{"x":3,"y":120},{"x":3.5,"y":140},{"x":4,"y":100},{"x":4.5,"y":115},{"x":5,"y":85},{"x":5.5,"y":95},{"x":6,"y":75},{"x":6.5,"y":90},{"x":7,"y":65},{"x":7.5,"y":80},{"x":8,"y":70},{"x":8.5,"y":45},{"x":9,"y":60},{"x":9.5,"y":75},{"x":11,"y":70},{"x":12,"y":62},{"x":13,"y":25},{"x":14,"y":58},{"x":16,"y":22},{"x":17,"y":55},{"x":19,"y":20},{"x":21,"y":52},{"x":23,"y":19},{"x":26,"y":50},{"x":28,"y":18},{"x":32,"y":45},{"x":35,"y":17},{"x":38,"y":40},{"x":42,"y":22},{"x":45,"y":35},{"x":48,"y":20},{"x":52,"y":30},{"x":55,"y":25},{"x":60,"y":28},{"x":65,"y":22},{"x":70,"y":26},{"x":80,"y":20},{"x":50,"y":15},{"x":35,"y":14},{"x":20,"y":16},{"x":10,"y":38},{"x":6,"y":55},{"x":4.5,"y":70},{"x":3.3,"y":90},{"x":15,"y":80},{"x":25,"y":70},{"x":40,"y":55},{"x":90,"y":25}],
"c1c":[{"x":-2.2,"y":440},{"x":-2.2,"y":550},{"x":-2.2,"y":690},{"x":-2.2,"y":860},{"x":-2.2,"y":1080},{"x":0.2,"y":310},{"x":0.2,"y":390},{"x":0.2,"y":490},{"x":0.2,"y":615},{"x":0.2,"y":770},{"x":0.2,"y":960},{"x":0.2,"y":1200},{"x":0.2,"y":1510},{"x":2.7,"y":350},{"x":2.7,"y":440},{"x":2.7,"y":550},{"x":2.7,"y":690},{"x":2.7,"y":860},{"x":2.7,"y":1080},{"x":2.7,"y":1350},{"x":2.7,"y":1690},{"x":5.8,"y":390},{"x":5.8,"y":490},{"x":5.8,"y":615},{"x":5.8,"y":770},{"x":5.8,"y":960},{"x":5.8,"y":1200},{"x":5.8,"y":1510},{"x":5.8,"y":1890},{"x":9.6,"y":440},{"x":9.6,"y":550},{"x":9.6,"y":690},{"x":9.6,"y":860},{"x":9.6,"y":1080},{"x":9.6,"y":1350},{"x":9.6,"y":1690},{"x":9.6,"y":2110},{"x":14.1,"y":615},{"x":14.1,"y":770},{"x":14.1,"y":960},{"x":14.1,"y":1200},{"x":14.1,"y":1510},{"x":14.1,"y":1890},{"x":19.7,"y":690},{"x":19.7,"y":860},{"x":19.7,"y":1080},{"x":19.7,"y":1350},{"x":19.7,"y":1690},{"x":19.7,"y":2110},{"x":26.6,"y":960},{"x":26.6,"y":1200},{"x":26.6,"y":1510},{"x":26.6,"y":1890},{"x":34.8,"y":1350},{"x":34.8,"y":1690}],
"c1":[{"x":-4.5,"y":500},{"x":-5.8,"y":700},{"x":-3.6,"y":900},{"x":-4.2,"y":1300},{"x":-6.5,"y":1000},{"x":-3.5,"y":380},{"x":-5,"y":1600},{"x":-1.5,"y":280},{"x":0.8,"y":260},{"x":2.5,"y":240},{"x":4.4,"y":290},{"x":6.5,"y":270},{"x":8.5,"y":330},{"x":1.6,"y":225},{"x":11,"y":360},{"x":-2.8,"y":330},{"x":5,"y":220},{"x":-2.8,"y":1600},{"x":-0.6,"y":1900},{"x":1.5,"y":2200},{"x":3.5,"y":2600},{"x":6.2,"y":3000},{"x":8.3,"y":3500},{"x":0.5,"y":2900},{"x":-1.6,"y":2300},{"x":4.8,"y":4000},{"x":11.5,"y":2900},{"x":14,"y":3700},{"x":20,"y":3300},{"x":26,"y":2800},{"x":34,"y":2600},{"x":40,"y":2300},{"x":45,"y":1800},{"x":52,"y":2800},{"x":60,"y":2100},{"x":68,"y":3200},{"x":78,"y":2500},{"x":95,"y":5700},{"x":110,"y":2600},{"x":130,"y":3000},{"x":120,"y":2000},{"x":150,"y":2400},{"x":90,"y":3800},{"x":55,"y":4500},{"x":30,"y":4800},{"x":42,"y":1200},{"x":35,"y":800},{"x":25,"y":600},{"x":18,"y":500},{"x":60,"y":1300},{"x":80,"y":1700},{"x":50,"y":3600},{"x":70,"y":5300},{"x":-3,"y":500},{"x":-3.2,"y":650},{"x":-2.9,"y":850},{"x":-2.6,"y":1150},{"x":-1.3,"y":1500},{"x":1.5,"y":1900},{"x":-1.8,"y":340},{"x":1,"y":300},{"x":4,"y":330},{"x":7.5,"y":380},{"x":11.5,"y":480},{"x":16,"y":560},{"x":22,"y":700},{"x":28,"y":820},{"x":33,"y":1050},{"x":40,"y":1150},{"x":44,"y":1500},{"x":43,"y":2100},{"x":38,"y":2400},{"x":31,"y":2500},{"x":24,"y":2500},{"x":16,"y":2500},{"x":11,"y":2400},{"x":7,"y":2200},{"x":3.5,"y":2000},{"x":20,"y":2900},{"x":27,"y":3300},{"x":36,"y":3000},{"x":55,"y":2300},{"x":65,"y":2700},{"x":75,"y":3700},{"x":85,"y":2900},{"x":100,"y":2300},{"x":48,"y":1300},{"x":58,"y":1700},{"x":13,"y":3100},{"x":6,"y":3400},{"x":850,"y":1450},{"x":1330,"y":1200},{"x":1850,"y":1200},{"x":1900,"y":960},{"x":1550,"y":800},{"x":3000,"y":800},{"x":4600,"y":2400},{"x":5100,"y":1300},{"x":6400,"y":3000},{"x":7300,"y":5300},{"x":1850,"y":1500},{"x":4500,"y":1400},{"x":4,"y":49},{"x":3.7,"y":18},{"x":4.8,"y":16},{"x":10.2,"y":26},{"x":11,"y":19},{"x":17,"y":23},{"x":32,"y":23},{"x":50,"y":21},{"x":56,"y":17},{"x":3.7,"y":14},{"x":4.5,"y":8},{"x":10,"y":6.6},{"x":10,"y":3.8},{"x":3.2,"y":2.5},{"x":4,"y":1.3}],
"c2c":[{"x":2.51,"y":200},{"x":2.51,"y":151},{"x":3.16,"y":178},{"x":3.16,"y":135},{"x":3.98,"y":120},{"x":3.98,"y":91},{"x":3.98,"y":158},{"x":5.01,"y":107},{"x":5.01,"y":81},{"x":5.01,"y":141},{"x":5.01,"y":62},{"x":6.31,"y":79},{"x":6.31,"y":60},{"x":6.31,"y":105},{"x":7.94,"y":76},{"x":7.94,"y":58},{"x":7.94,"y":100},{"x":7.94,"y":44},{"x":10,"y":56},{"x":10,"y":43},{"x":10,"y":74},{"x":10,"y":32},{"x":10,"y":98},{"x":12.6,"y":58},{"x":12.6,"y":44},{"x":12.6,"y":76},{"x":12.6,"y":33},{"x":15.8,"y":46},{"x":15.8,"y":35},{"x":15.8,"y":60},{"x":15.8,"y":26},{"x":15.8,"y":79},{"x":20,"y":48},{"x":20,"y":36},{"x":20,"y":63},{"x":20,"y":28},{"x":25.1,"y":38},{"x":25.1,"y":29},{"x":25.1,"y":50},{"x":25.1,"y":22},{"x":25.1,"y":66},{"x":31.6,"y":40},{"x":31.6,"y":30},{"x":31.6,"y":52},{"x":31.6,"y":23},{"x":39.8,"y":32},{"x":39.8,"y":25},{"x":39.8,"y":43},{"x":39.8,"y":19},{"x":50.1,"y":35},{"x":50.1,"y":26},{"x":50.1,"y":46},{"x":50.1,"y":20},{"x":63.1,"y":28},{"x":63.1,"y":21},{"x":63.1,"y":37},{"x":79.4,"y":30},{"x":79.4,"y":23},{"x":79.4,"y":40},{"x":100,"y":25},{"x":100,"y":19},{"x":100,"y":33},{"x":126,"y":27},{"x":126,"y":20},{"x":158,"y":22}],
"c2":[{"x":0.13,"y":3300},{"x":0.17,"y":2800},{"x":0.19,"y":2700},{"x":0.37,"y":960},{"x":0.64,"y":1150},{"x":0.7,"y":850},{"x":1.05,"y":660},{"x":0.9,"y":500},{"x":1.2,"y":440},{"x":1.4,"y":380},{"x":1.3,"y":550},{"x":1.6,"y":300},{"x":1.8,"y":350},{"x":2,"y":260},{"x":2.2,"y":310},{"x":1.5,"y":480},{"x":1.1,"y":330},{"x":3,"y":230},{"x":4,"y":200},{"x":5,"y":170},{"x":6.5,"y":140},{"x":8,"y":125},{"x":10,"y":115},{"x":12,"y":105},{"x":15,"y":95},{"x":20,"y":85},{"x":25,"y":80},{"x":32,"y":72},{"x":40,"y":62},{"x":50,"y":58},{"x":65,"y":52},{"x":80,"y":48},{"x":100,"y":42},{"x":130,"y":35},{"x":160,"y":30},{"x":200,"y":25},{"x":210,"y":18},{"x":180,"y":16},{"x":140,"y":14},{"x":110,"y":15},{"x":85,"y":16},{"x":60,"y":17},{"x":45,"y":18},{"x":30,"y":20},{"x":22,"y":22},{"x":16,"y":25},{"x":12,"y":28},{"x":9,"y":35},{"x":7,"y":45},{"x":5.5,"y":55},{"x":3.5,"y":100},{"x":2.8,"y":150},{"x":170,"y":22},{"x":120,"y":24},{"x":2.3,"y":180},{"x":2.7,"y":220},{"x":3.4,"y":200},{"x":4.4,"y":170},{"x":5.6,"y":140},{"x":7,"y":120},{"x":9,"y":110},{"x":11,"y":95},{"x":14,"y":88},{"x":18,"y":76},{"x":23,"y":70},{"x":29,"y":62},{"x":36,"y":56},{"x":45,"y":55},{"x":57,"y":50},{"x":70,"y":45},{"x":90,"y":40},{"x":110,"y":36},{"x":140,"y":30},{"x":180,"y":25},{"x":3.5,"y":125},{"x":4.6,"y":75},{"x":6,"y":58},{"x":7.5,"y":48},{"x":9.5,"y":38},{"x":12,"y":35},{"x":15,"y":30},{"x":19,"y":27},{"x":24,"y":24},{"x":30,"y":21},{"x":38,"y":19},{"x":48,"y":18},{"x":60,"y":19},{"x":75,"y":20},{"x":95,"y":20},{"x":120,"y":18},{"x":150,"y":19},{"x":190,"y":20},{"x":1.6,"y":1750},{"x":2.1,"y":1950},{"x":2.5,"y":700},{"x":6,"y":500},{"x":5.2,"y":430},{"x":8,"y":260},{"x":20,"y":210},{"x":26,"y":230},{"x":35,"y":175},{"x":45,"y":200},{"x":12,"y":220},{"x":130,"y":6.5},{"x":150,"y":4},{"x":220,"y":5},{"x":120,"y":9},{"x":30,"y":9},{"x":60,"y":10},{"x":200,"y":8}],
"d1c":[{"x":-7.5,"y":1349},{"x":-7.5,"y":1698},{"x":-7.5,"y":2138},{"x":-7.5,"y":2630},{"x":-7.5,"y":3311},{"x":-4.1,"y":776},{"x":-4.1,"y":977},{"x":-4.1,"y":1202},{"x":-4.1,"y":1514},{"x":-4.1,"y":1905},{"x":-4.1,"y":2344},{"x":-4.1,"y":2951},{"x":-4.1,"y":3715},{"x":-4.1,"y":4677},{"x":-1.36,"y":562},{"x":-1.36,"y":692},{"x":-1.36,"y":871},{"x":-1.36,"y":1096},{"x":-1.36,"y":1349},{"x":-1.36,"y":1698},{"x":-1.36,"y":2138},{"x":-1.36,"y":2630},{"x":-1.36,"y":3311},{"x":-1.36,"y":4169},{"x":-1.36,"y":5248},{"x":1,"y":501},{"x":1,"y":617},{"x":1,"y":776},{"x":1,"y":977},{"x":1,"y":1202},{"x":1,"y":1514},{"x":1,"y":1905},{"x":1,"y":2344},{"x":1,"y":2951},{"x":1,"y":3715},{"x":1,"y":4677},{"x":3.69,"y":562},{"x":3.69,"y":692},{"x":3.69,"y":871},{"x":3.69,"y":1096},{"x":3.69,"y":1349},{"x":3.69,"y":1698},{"x":3.69,"y":2138},{"x":3.69,"y":2630},{"x":3.69,"y":3311},{"x":3.69,"y":4169},{"x":3.69,"y":5248},{"x":6.98,"y":776},{"x":6.98,"y":977},{"x":6.98,"y":1202},{"x":6.98,"y":1514},{"x":6.98,"y":1905},{"x":6.98,"y":2344},{"x":6.98,"y":2951},{"x":6.98,"y":3715},{"x":6.98,"y":4677},{"x":11,"y":1096},{"x":11,"y":1349},{"x":11,"y":1698},{"x":11,"y":2138},{"x":11,"y":2630},{"x":11,"y":3311},{"x":11,"y":4169},{"x":15.9,"y":1514},{"x":15.9,"y":1905},{"x":15.9,"y":2344},{"x":15.9,"y":2951},{"x":15.9,"y":3715}],
"d1":[{"x":-10,"y":2500},{"x":-11,"y":3500},{"x":-9,"y":1500},{"x":-12,"y":4500},{"x":-8.5,"y":900},{"x":-13,"y":5500},{"x":-10,"y":6000},{"x":-6,"y":600},{"x":-4,"y":480},{"x":-8,"y":1100},{"x":-2,"y":420},{"x":0,"y":380},{"x":2,"y":360},{"x":4,"y":420},{"x":6,"y":470},{"x":8,"y":600},{"x":10,"y":720},{"x":1,"y":330},{"x":3,"y":300},{"x":-1,"y":350},{"x":-6,"y":6500},{"x":-3,"y":7200},{"x":0,"y":6800},{"x":3,"y":7500},{"x":6,"y":6600},{"x":9,"y":6000},{"x":12,"y":5500},{"x":15,"y":6200},{"x":-8,"y":7000},{"x":1.5,"y":8000},{"x":-9,"y":2200},{"x":-9.5,"y":3000},{"x":-8.8,"y":3800},{"x":-7,"y":4500},{"x":-5.5,"y":5500},{"x":-3,"y":6200},{"x":0,"y":6000},{"x":3,"y":6300},{"x":5.5,"y":5900},{"x":9,"y":5200},{"x":13,"y":4600},{"x":18,"y":4900},{"x":20,"y":4200},{"x":21,"y":3200},{"x":20,"y":2400},{"x":19,"y":1700},{"x":14,"y":1200},{"x":10,"y":900},{"x":8,"y":700},{"x":5,"y":520},{"x":2,"y":440},{"x":-1,"y":470},{"x":-3.5,"y":560},{"x":-6,"y":760},{"x":-8,"y":1200},{"x":-9,"y":1700},{"x":24,"y":2700},{"x":26,"y":3600},{"x":25,"y":1800},{"x":20,"y":900},{"x":25,"y":1200},{"x":30,"y":2000},{"x":32,"y":3000},{"x":28,"y":4000},{"x":22,"y":5000},{"x":35,"y":1500},{"x":40,"y":2500},{"x":30,"y":6000},{"x":45,"y":3500},{"x":55,"y":2000},{"x":65,"y":4500},{"x":75,"y":3000},{"x":90,"y":1300},{"x":100,"y":5000},{"x":110,"y":2400},{"x":125,"y":3800},{"x":150,"y":2700},{"x":180,"y":1200},{"x":200,"y":3300},{"x":60,"y":6500},{"x":85,"y":1800},{"x":48,"y":1000},{"x":40,"y":700},{"x":-15,"y":2000},{"x":-14,"y":1600},{"x":56,"y":5700},{"x":58,"y":2400},{"x":130,"y":1600},{"x":215,"y":3150},{"x":420,"y":2200},{"x":500,"y":1100},{"x":650,"y":530},{"x":600,"y":650},{"x":700,"y":900},{"x":800,"y":550},{"x":850,"y":1100},{"x":900,"y":800},{"x":950,"y":1400},{"x":1000,"y":1000},{"x":1050,"y":700},{"x":1100,"y":1250},{"x":1150,"y":1600},{"x":1200,"y":900},{"x":1250,"y":1150},{"x":1300,"y":1400},{"x":1350,"y":800},{"x":1400,"y":1900},{"x":1450,"y":1100},{"x":1500,"y":1300},{"x":1550,"y":1600},{"x":1600,"y":950},{"x":1650,"y":2200},{"x":1700,"y":1250},{"x":1750,"y":1500},{"x":1800,"y":1800},{"x":1850,"y":1050},{"x":1900,"y":2500},{"x":1950,"y":1400},{"x":2000,"y":1700},{"x":2050,"y":2000},{"x":2100,"y":1200},{"x":2150,"y":2800},{"x":2200,"y":1550},{"x":2250,"y":1900},{"x":2300,"y":2300},{"x":2350,"y":1350},{"x":2400,"y":3000},{"x":2450,"y":1700},{"x":2500,"y":2100},{"x":2550,"y":2600},{"x":2600,"y":1500},{"x":2700,"y":1900},{"x":2800,"y":2400},{"x":2900,"y":3200},{"x":3000,"y":1700},{"x":3100,"y":2200},{"x":3200,"y":2800},{"x":3300,"y":3600},{"x":3400,"y":2000},{"x":3500,"y":2500},{"x":3700,"y":3100},{"x":3900,"y":2200},{"x":4100,"y":3500},{"x":4300,"y":2800},{"x":4600,"y":4000},{"x":4900,"y":3200},{"x":5200,"y":4200},{"x":5600,"y":3600},{"x":6000,"y":4200},{"x":700,"y":450},{"x":1100,"y":550},{"x":1300,"y":600},{"x":1800,"y":700},{"x":2600,"y":1000},{"x":3500,"y":1200},{"x":4500,"y":1800},{"x":5500,"y":2500},{"x":1700,"y":3000},{"x":1200,"y":2100},{"x":950,"y":1800},{"x":800,"y":1300},{"x":2200,"y":4300},{"x":2800,"y":4600},{"x":3800,"y":4400},{"x":1600,"y":1300},{"x":2000,"y":1350},{"x":2400,"y":1800},{"x":1900,"y":1600},{"x":2300,"y":1500},{"x":2700,"y":2200},{"x":1000,"y":2200},{"x":1200,"y":2800},{"x":1400,"y":2500},{"x":1600,"y":1800},{"x":1800,"y":2300},{"x":2000,"y":2600},{"x":2200,"y":2000},{"x":2500,"y":3400},{"x":2800,"y":1200},{"x":3100,"y":1400},{"x":3300,"y":1800},{"x":3600,"y":2000},{"x":3900,"y":1600},{"x":4200,"y":2400},{"x":1300,"y":1000},{"x":1500,"y":800},{"x":1700,"y":1000},{"x":2000,"y":900},{"x":2300,"y":1150},{"x":1100,"y":900},{"x":1400,"y":1600},{"x":1700,"y":1400},{"x":2100,"y":1650},{"x":2400,"y":1350},{"x":2700,"y":1600},{"x":3000,"y":2600},{"x":3400,"y":3000},{"x":3800,"y":3300},{"x":2600,"y":3600},{"x":4800,"y":2600},{"x":1000,"y":300},{"x":1400,"y":280},{"x":1900,"y":260},{"x":2600,"y":290},{"x":3200,"y":250},{"x":1800,"y":200},{"x":1300,"y":170},{"x":1300,"y":130},{"x":1550,"y":162},{"x":3000,"y":77},{"x":2500,"y":80},{"x":1600,"y":62},{"x":2000,"y":55},{"x":2300,"y":48},{"x":2100,"y":40},{"x":2400,"y":45},{"x":2700,"y":35},{"x":1800,"y":38},{"x":1500,"y":32},{"x":2200,"y":30},{"x":2000,"y":26},{"x":2600,"y":60},{"x":970,"y":25},{"x":1200,"y":35},{"x":1400,"y":25},{"x":1900,"y":22},{"x":2300,"y":20},{"x":1700,"y":18},{"x":2500,"y":16},{"x":1600,"y":13},{"x":2100,"y":12},{"x":2800,"y":14},{"x":1100,"y":22},{"x":1300,"y":11},{"x":1500,"y":9},{"x":1800,"y":10},{"x":2300,"y":9},{"x":3570,"y":17.5},{"x":1000,"y":7},{"x":1200,"y":6.5},{"x":1500,"y":6},{"x":2400,"y":5.1},{"x":2850,"y":3.5},{"x":1950,"y":2.7},{"x":3400,"y":6},{"x":1450,"y":3.9},{"x":1,"y":100},{"x":11,"y":62},{"x":15,"y":22},{"x":4.3,"y":4.3},{"x":3.2,"y":2.3}],
"d2c":[{"x":0.5,"y":4074},{"x":0.5,"y":3090},{"x":0.5,"y":5370},{"x":0.63,"y":3890},{"x":0.63,"y":2951},{"x":0.79,"y":2818},{"x":0.79,"y":2138},{"x":0.79,"y":3715},{"x":1,"y":2692},{"x":1,"y":2042},{"x":1,"y":3548},{"x":1,"y":1549},{"x":1.26,"y":1950},{"x":1.26,"y":1479},{"x":1.26,"y":2570},{"x":1.58,"y":1862},{"x":1.58,"y":1413},{"x":1.58,"y":2455},{"x":1.58,"y":1072},{"x":2,"y":1349},{"x":2,"y":1023},{"x":2,"y":1778},{"x":2,"y":776},{"x":2,"y":2344},{"x":2.51,"y":1288},{"x":2.51,"y":977},{"x":2.51,"y":1698},{"x":2.51,"y":741},{"x":3.16,"y":933},{"x":3.16,"y":708},{"x":3.16,"y":1230},{"x":3.16,"y":537},{"x":3.16,"y":1622},{"x":3.98,"y":891},{"x":3.98,"y":676},{"x":3.98,"y":1175},{"x":3.98,"y":513},{"x":5.01,"y":646},{"x":5.01,"y":490},{"x":5.01,"y":851},{"x":5.01,"y":372},{"x":5.01,"y":1122},{"x":6.31,"y":603},{"x":6.31,"y":457},{"x":6.31,"y":794},{"x":6.31,"y":347},{"x":7.94,"y":437},{"x":7.94,"y":331},{"x":7.94,"y":575},{"x":7.94,"y":251},{"x":7.94,"y":759},{"x":10,"y":417},{"x":10,"y":316},{"x":10,"y":550},{"x":10,"y":240},{"x":12.6,"y":302},{"x":12.6,"y":229},{"x":12.6,"y":398},{"x":15.8,"y":288},{"x":15.8,"y":219},{"x":15.8,"y":380},{"x":15.8,"y":166},{"x":20,"y":209},{"x":20,"y":158},{"x":20,"y":275},{"x":25.1,"y":200},{"x":25.1,"y":151},{"x":31.6,"y":145},{"x":10,"y":56},{"x":12.6,"y":52},{"x":12.6,"y":40},{"x":15.8,"y":49},{"x":15.8,"y":37},{"x":15.8,"y":28},{"x":20,"y":46},{"x":20,"y":35},{"x":20,"y":26},{"x":25.1,"y":43},{"x":25.1,"y":32},{"x":25.1,"y":25},{"x":31.6,"y":40},{"x":31.6,"y":30},{"x":31.6,"y":23},{"x":39.8,"y":37},{"x":39.8,"y":28},{"x":39.8,"y":21},{"x":50.1,"y":30},{"x":50.1,"y":23}],
"d2":[{"x":0.1,"y":30000},{"x":0.11,"y":22000},{"x":0.12,"y":34000},{"x":0.13,"y":15000},{"x":0.14,"y":26000},{"x":0.15,"y":19000},{"x":0.17,"y":12000},{"x":0.18,"y":24000},{"x":0.2,"y":16000},{"x":0.22,"y":10000},{"x":0.23,"y":20000},{"x":0.25,"y":13000},{"x":0.27,"y":8500},{"x":0.28,"y":15000},{"x":0.3,"y":11000},{"x":0.32,"y":7000},{"x":0.34,"y":9500},{"x":0.36,"y":6000},{"x":0.38,"y":8000},{"x":0.4,"y":5000},{"x":0.42,"y":7500},{"x":0.44,"y":4500},{"x":0.46,"y":6500},{"x":0.48,"y":3600},{"x":0.52,"y":5800},{"x":0.56,"y":2800},{"x":0.6,"y":4800},{"x":0.65,"y":2400},{"x":0.7,"y":4500},{"x":0.75,"y":2100},{"x":0.85,"y":4200},{"x":0.9,"y":1900},{"x":1.1,"y":3800},{"x":1.2,"y":1300},{"x":1.4,"y":3300},{"x":1.5,"y":1100},{"x":1.7,"y":2900},{"x":1.9,"y":900},{"x":2.2,"y":2600},{"x":2.4,"y":650},{"x":2.7,"y":2200},{"x":3,"y":550},{"x":3.4,"y":1900},{"x":3.8,"y":450},{"x":4.3,"y":1600},{"x":4.7,"y":380},{"x":5.5,"y":1400},{"x":6,"y":300},{"x":7,"y":1100},{"x":7.5,"y":260},{"x":8.5,"y":950},{"x":9,"y":220},{"x":11,"y":800},{"x":11.5,"y":190},{"x":13,"y":620},{"x":14,"y":175},{"x":17,"y":500},{"x":18,"y":140},{"x":21,"y":420},{"x":23,"y":120},{"x":27,"y":320},{"x":29,"y":110},{"x":35,"y":250},{"x":38,"y":100},{"x":45,"y":190},{"x":50,"y":95},{"x":60,"y":150},{"x":0.15,"y":8000},{"x":0.5,"y":2500},{"x":0.8,"y":1500},{"x":0.7,"y":3300},{"x":0.45,"y":3500},{"x":0.55,"y":4600},{"x":0.62,"y":5000},{"x":0.72,"y":3900},{"x":0.9,"y":3400},{"x":1.15,"y":2900},{"x":1.4,"y":2500},{"x":1.75,"y":2100},{"x":2.2,"y":1900},{"x":2.8,"y":1500},{"x":3.5,"y":1300},{"x":4.4,"y":1050},{"x":5.6,"y":880},{"x":7,"y":720},{"x":8.8,"y":600},{"x":11,"y":480},{"x":14,"y":380},{"x":18,"y":300},{"x":22,"y":240},{"x":28,"y":190},{"x":35,"y":170},{"x":0.58,"y":2200},{"x":0.75,"y":1700},{"x":0.95,"y":1350},{"x":1.2,"y":1150},{"x":1.5,"y":900},{"x":1.9,"y":680},{"x":2.4,"y":560},{"x":3,"y":430},{"x":3.8,"y":360},{"x":4.8,"y":290},{"x":6,"y":250},{"x":7.5,"y":200},{"x":9.5,"y":190},{"x":12,"y":170},{"x":15,"y":140},{"x":19,"y":130},{"x":24,"y":115},{"x":30,"y":105},{"x":40,"y":120},{"x":1,"y":700},{"x":0.8,"y":900},{"x":1.2,"y":500},{"x":1.5,"y":480},{"x":1.8,"y":320},{"x":2,"y":400},{"x":2.3,"y":250},{"x":2.6,"y":300},{"x":3,"y":190},{"x":3.5,"y":220},{"x":4,"y":150},{"x":4.5,"y":170},{"x":5,"y":120},{"x":5.5,"y":140},{"x":6,"y":100},{"x":6.5,"y":115},{"x":7,"y":85},{"x":8,"y":95},{"x":9,"y":70},{"x":9.5,"y":80},{"x":10,"y":68},{"x":11,"y":30},{"x":13,"y":65},{"x":14,"y":24},{"x":17,"y":60},{"x":19,"y":21},{"x":22,"y":58},{"x":26,"y":20},{"x":30,"y":55},{"x":35,"y":19},{"x":40,"y":50},{"x":45,"y":20},{"x":55,"y":45},{"x":60,"y":25},{"x":65,"y":35},{"x":70,"y":30},{"x":80,"y":40},{"x":75,"y":22},{"x":90,"y":45},{"x":130,"y":17},{"x":20,"y":13},{"x":0.6,"y":800},{"x":0.7,"y":1100},{"x":15,"y":80},{"x":25,"y":75},{"x":45,"y":62},{"x":8,"y":60},{"x":9,"y":45},{"x":11,"y":62},{"x":11.5,"y":38},{"x":14,"y":55},{"x":14,"y":30},{"x":18,"y":55},{"x":18,"y":23},{"x":22,"y":50},{"x":22,"y":21},{"x":28,"y":48},{"x":28,"y":19},{"x":35,"y":45},{"x":35,"y":20},{"x":45,"y":38},{"x":45,"y":22},{"x":55,"y":32},{"x":55,"y":24},{"x":70,"y":28},{"x":40,"y":17}]
},
"config":{
"font":"DejaVu Sans",
"view":{"stroke":"#000","strokeWidth":1},
"axis":{"grid":false,"domainColor":"#000","tickColor":"#000","tickSize":5,"labelFontSize":12,"labelFontWeight":"bold","labelColor":"#000","labelFlush":false,"labelOverlap":false,"titleFontWeight":"normal","titleColor":"#555","titleFontSize":13},
"title":{"color":"#000"}
}
}
